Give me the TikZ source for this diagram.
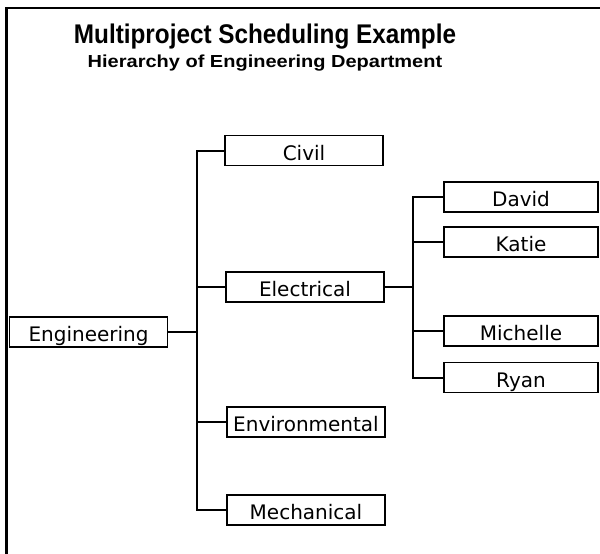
\documentclass[tikz,border=0pt]{standalone}
\usepackage{fontspec}
\newfontfamily\titlefont{Liberation Sans}
\newfontfamily\labelfont{DejaVu Sans}
\begin{document}
\begin{tikzpicture}[x=1pt,y=-1pt,
  unit/.style={draw, line width=1.4pt, minimum width=158pt, minimum height=30pt,
    inner sep=0pt, text height=19.5pt, text depth=0pt,
    font=\labelfont\fontsize{20}{24}\selectfont},
  person/.style={unit, minimum width=154pt},
  link/.style={line width=2pt},
  frame/.style={line width=2.5pt}]
\path[use as bounding box, fill=white] (0,0) rectangle (600,554);
% frame
\draw[frame] (6.5,554) -- (6.5,8) -- (600,8);
% titles
\node[anchor=base, inner sep=0pt, font=\titlefont\bfseries\fontsize{27}{30}\selectfont] (title) at (265,43)
  {\scalebox{0.9}[1]{Multiproject Scheduling Example}};
\node[anchor=base, inner sep=0pt, font=\titlefont\bfseries\fontsize{20}{24}\selectfont] (subtitle) at (265,67)
  {\scalebox{1}[0.87]{Hierarchy of Engineering Department}};
% nodes
\node[unit] (eng) at (88.5,332) {Engineering};
\node[unit] (civil) at (304,150.5) {Civil};
\node[unit] (elec) at (305,287) {Electrical};
\node[unit] (env) at (306,422) {Environmental};
\node[unit] (mech) at (306,510) {Mechanical};
\node[person] (david) at (521,197) {David};
\node[person] (katie) at (521,242) {Katie};
\node[person] (michelle) at (521,331) {Michelle};
\node[person] (ryan) at (521,377.5) {Ryan};
% buses
\coordinate (b1) at (197,0);
\coordinate (b2) at (413,0);
% connectors level 1
\draw[link] (eng.east) -- (eng.east -| b1);
\draw[link] (civil.west) -- (civil.west -| b1) -- (mech.west -| b1) -- (mech.west);
\draw[link] (elec.west) -- (elec.west -| b1);
\draw[link] (env.west) -- (env.west -| b1);
% connectors level 2
\draw[link] (elec.east) -- (elec.east -| b2);
\draw[link] (david.west) -- (david.west -| b2) -- (ryan.west -| b2) -- (ryan.west);
\draw[link] (katie.west) -- (katie.west -| b2);
\draw[link] (michelle.west) -- (michelle.west -| b2);
\end{tikzpicture}
\end{document}
